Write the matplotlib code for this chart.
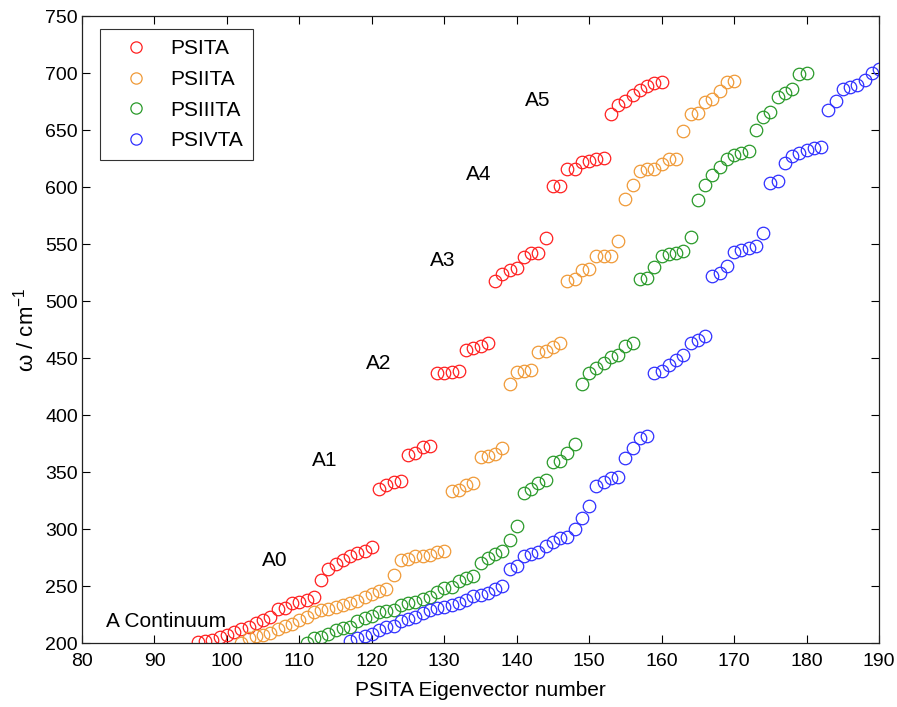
import numpy as np
import matplotlib
matplotlib.use("Agg")
import matplotlib.pyplot as plt

plt.rcParams['font.family'] = ['Liberation Sans', 'DejaVu Sans']
plt.rcParams['mathtext.fontset'] = 'custom'
plt.rcParams['mathtext.rm'] = 'Liberation Sans'

# Series names and colours
names = ["PSITA", "PSIITA", "PSIIITA", "PSIVTA"]
colors = ["#ff2020", "#f09a38", "#2a9a2a", "#3030ff"]

# First eigenvector number of each series (consecutive numbers follow)
starts = [96, 102, 111, 117]

# Frequencies (cm^-1)
psita_w = [201, 202, 203, 205, 207, 210, 212, 214, 218, 220, 223, 230, 231,
           235, 236, 238, 240, 255, 265, 269, 273, 276, 279, 281, 284,
           335, 339, 341, 342, 365, 367, 372, 373,
           437, 437, 438, 439, 457, 459, 461, 463,
           518, 524, 527, 529, 539, 542, 542, 555,
           601, 601, 616, 616, 622, 623, 625, 626,
           664, 672, 676, 681, 685, 689, 691, 692]

psiita_w = [200, 204, 206, 207, 209, 212, 215, 217, 220, 223, 227, 229, 230,
            232, 233, 235, 237, 240, 243, 246, 247, 260, 273, 274, 276, 276,
            277, 280, 281,
            333, 334, 339, 340, 363, 364, 366, 371,
            427, 438, 439, 440, 455, 456, 460, 463,
            518, 519, 527, 528, 540, 540, 540, 553,
            590, 602, 614, 616, 616, 620, 625, 625,
            649, 664, 665, 675, 677, 684, 692, 693]

psiiita_w = [200, 204, 205, 208, 211, 213, 214, 219, 222, 224, 227, 228, 229,
             233, 235, 236, 239, 240, 245, 248, 249, 254, 257, 259, 270, 275,
             278, 281, 290, 303,
             332, 335, 340, 343, 359, 360, 367, 375,
             427, 437, 441, 446, 451, 453, 461, 463,
             519, 520, 530, 540, 541, 542, 544, 556,
             589, 602, 611, 618, 625, 628, 630, 632,
             650, 662, 666, 679, 683, 686, 699, 700]

psivta_w = [202, 204, 206, 208, 211, 214, 215, 219, 221, 223, 226, 229, 231,
            232, 233, 235, 238, 241, 242, 244, 247, 250, 265, 268, 276, 278,
            280, 285, 289, 292, 293, 300, 310, 320, 338, 341, 345, 346, 362,
            371, 380, 382,
            437, 439, 444, 448, 453, 463, 466, 469,
            522, 525, 531, 543, 545, 547, 548, 560,
            604, 605, 621, 627, 630, 633, 634, 635,
            668, 676, 686, 688, 690, 694, 700, 704]

series = [psita_w, psiita_w, psiiita_w, psivta_w]

# Band labels and where they sit
band_labels = ["A Continuum", "A0", "A1", "A2", "A3", "A4", "A5"]
band_x = [83.3, 104.8, 111.7, 119.2, 128.0, 133.0, 141.1]
band_y = [219, 272, 360, 445, 536, 611, 676]

fig = plt.figure(figsize=(8.97, 7.07), dpi=100)
ax = fig.add_axes([0.0914, 0.0905, 0.8886, 0.8865])

for name, col, x0, w in zip(names, colors, starts, series):
    x = np.arange(x0, x0 + len(w))
    ax.plot(x, w, linestyle='none', marker='o', markersize=9,
            markerfacecolor='none', markeredgecolor=col,
            markeredgewidth=0.9, label=name)

for t, bx, by in zip(band_labels, band_x, band_y):
    ax.text(bx, by, t, fontsize=15, ha='left', va='center')

ax.set_xlim(80, 190)
ax.set_ylim(200, 750)
ax.set_xticks(np.arange(80, 191, 10))
ax.set_yticks(np.arange(200, 751, 50))
ax.tick_params(direction='in', length=6, width=0.8, top=True, right=True,
               labelsize=14)
ax.tick_params(axis='x', pad=7)
ax.tick_params(axis='y', pad=3)
for s in ax.spines.values():
    s.set_linewidth(0.9)
    s.set_color('#222222')

ax.set_xlabel("PSITA Eigenvector number", fontsize=15, labelpad=8)
ax.set_ylabel("ω / cm$^{-1}$", fontsize=16, labelpad=5)

leg = ax.legend(loc='upper left', bbox_to_anchor=(0.0226, 0.979),
                borderaxespad=0, fontsize=15,
                frameon=True, fancybox=False, edgecolor='black',
                handletextpad=0.4, borderpad=0.48, labelspacing=0.56,
                handlelength=2.5, markerscale=0.9)
leg.get_frame().set_linewidth(0.8)

fig.savefig("out.png", dpi=100)
